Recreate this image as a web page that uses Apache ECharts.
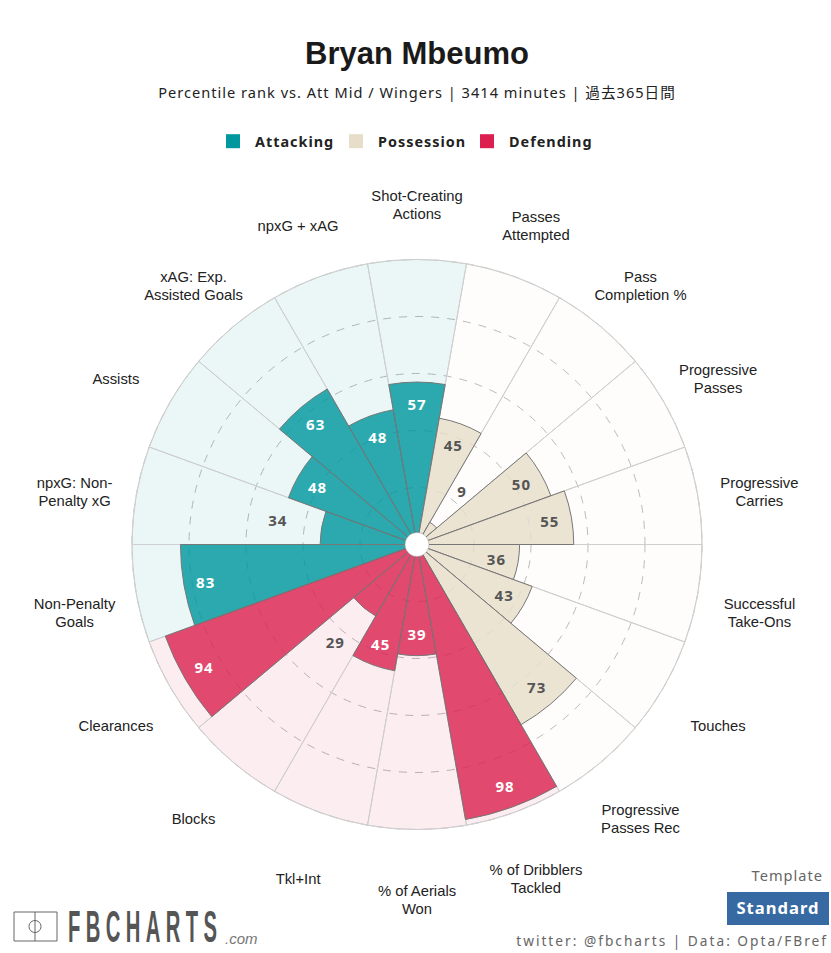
<!DOCTYPE html>
<html>
<head>
<meta charset="utf-8">
<style>
    html, body {margin: 0; padding: 0; background: #fff;}
    #chart {width: 831px; height: 953px;}
    #chart text[style*="Noto Sans"] {letter-spacing: 1px;}
    #chart text[style*="45px"] {letter-spacing: 12px;}
    #chart text[style*="13.7px"] {letter-spacing: 2px;}
</style>
<script src="https://cdn.jsdelivr.net/npm/echarts@6/dist/echarts.min.js"></script>
</head>
<body>
<div id="chart"></div>
<script>
// clockwise from the top
const categories = [
    'Shot-Creating\nActions', 'Passes\nAttempted', 'Pass\nCompletion %', 'Progressive\nPasses',
    'Progressive\nCarries', 'Successful\nTake-Ons', 'Touches', 'Progressive\nPasses Rec',
    '% of Dribblers\nTackled', '% of Aerials\nWon', 'Tkl+Int', 'Blocks', 'Clearances',
    'Non-Penalty\nGoals', 'npxG: Non-\nPenalty xG', 'Assists', 'xAG: Exp.\nAssisted Goals', 'npxG + xAG'
];
const percentiles = [57, 45, 9, 50, 55, 36, 43, 73, 98, 39, 45, 29, 94, 83, 34, 48, 63, 48];
const groups = ['Attacking', 'Possession', 'Possession', 'Possession', 'Possession', 'Possession',
    'Possession', 'Possession', 'Defending', 'Defending', 'Defending', 'Defending', 'Defending',
    'Attacking', 'Attacking', 'Attacking', 'Attacking', 'Attacking'];
const groupNames = ['Attacking', 'Possession', 'Defending'];
const groupColors = {Attacking: '#01979E', Possession: '#E6DEC9', Defending: '#DC1F4E'};
const barFill = {Attacking: 'rgba(1,151,158,0.82)', Possession: 'rgba(230,222,201,0.82)', Defending: 'rgba(218,36,80,0.82)'};
const backFill = {Attacking: 'rgba(1,151,158,0.08)', Possession: 'rgba(230,222,201,0.05)', Defending: 'rgba(220,31,78,0.08)'};

const center = [417, 544.5];
const sansFont = '"Liberation Sans", Arial, sans-serif';
const trebFont = '"Noto Sans", "Noto Sans CJK JP", sans-serif';

const backSeries = {
    type: 'bar',
    coordinateSystem: 'polar',
    barGap: '-100%',
    barCategoryGap: 0,
    silent: true,
    data: groups.map(g => ({
        value: 100,
        itemStyle: {color: backFill[g], borderColor: '#cfcfcf', borderWidth: 1}
    }))
};

const barSeries = groupNames.map(name => ({
    name: name,
    type: 'bar',
    coordinateSystem: 'polar',
    barGap: '-100%',
    barCategoryGap: 0,
    silent: true,
    itemStyle: {color: barFill[name], borderColor: '#777', borderWidth: 1},
    data: percentiles.map((v, i) => groups[i] === name ? v : null)
}));

// value labels sit just inside the bar end, small bars get them outside
const labelSeries = {
    type: 'scatter',
    coordinateSystem: 'polar',
    symbolSize: 1,
    silent: true,
    clip: false,
    itemStyle: {color: 'rgba(0,0,0,0)', opacity: 1},
    z: 5,
    data: percentiles.map((v, i) => {
        const outside = v < 35;
        const light = !outside && groups[i] !== 'Possession';
        return {
            value: [outside ? v + 15.6 : v - 7.7, i],
            label: {
                show: true,
                position: 'inside',
                formatter: String(v),
                color: light ? '#fff' : '#555',
                textBorderWidth: 0,
                fontFamily: trebFont,
                fontWeight: 'bold',
                fontSize: 15
            }
        };
    })
};

// the angle axis forces its own label alignment, so names go on a scatter past the rim
const nameRadius = 122;
const nameSeries = {
    type: 'scatter',
    coordinateSystem: 'polar',
    symbolSize: 1,
    silent: true,
    clip: false,
    itemStyle: {color: 'rgba(0,0,0,0)', opacity: 1},
    data: categories.map((c, i) => ({
        value: [nameRadius, i],
        label: {
            show: true,
            position: 'inside',
            offset: [0, 8],
            formatter: c,
            align: 'center',
            verticalAlign: 'middle',
            color: '#222',
            textBorderWidth: 0,
            fontFamily: sansFont,
            fontSize: 14.8,
            lineHeight: 18
        }
    }))
};

const holeSeries = {
    type: 'pie',
    center: center,
    radius: [0, 12],
    silent: true,
    z: 6,
    label: {show: false},
    labelLine: {show: false},
    itemStyle: {color: '#fff', borderColor: '#999', borderWidth: 0.5},
    data: [1]
};

const legends = groupNames.map((name, i) => ({
    left: [226, 349, 480][i],
    top: 134,
    padding: 0,
    icon: 'rect',
    itemWidth: 14,
    itemHeight: 14,
    selectedMode: false,
    textStyle: {
        fontFamily: trebFont,
        fontWeight: 'bold',
        fontSize: 14.4,
        color: '#222',
        padding: [0, 0, 0, 10]
    },
    data: [{name: name, itemStyle: {color: groupColors[name], borderWidth: 0}}]
}));

const logoColor = '#666';
const graphics = [
    {type: 'rect', shape: {x: 14, y: 912, width: 43, height: 29}, style: {fill: 'none', stroke: logoColor, lineWidth: 1}},
    {type: 'line', shape: {x1: 35, y1: 912, x2: 35, y2: 941}, style: {stroke: logoColor, lineWidth: 1}},
    {type: 'circle', shape: {cx: 35, cy: 926.5, r: 6}, style: {fill: 'none', stroke: logoColor, lineWidth: 1}},
    {type: 'text', x: 68, y: 903, scaleX: 0.45, style: {
        text: 'FBCHARTS', font: 'bold 45px ' + sansFont, fill: '#555'
    }},
    {type: 'text', x: 225, y: 931, style: {
        text: '.com', font: 'italic 15px ' + sansFont, fill: '#777'
    }},
    {type: 'text', x: 823, y: 868, style: {
        text: 'Template', font: '14.6px ' + trebFont, fill: '#666', align: 'right'
    }},
    {type: 'rect', shape: {x: 727, y: 892, width: 102, height: 33}, style: {fill: '#376AA3'}},
    {type: 'text', x: 778, y: 899, style: {
        text: 'Standard', font: 'bold 16.6px ' + trebFont, fill: '#fff', align: 'center'
    }},
    {type: 'text', x: 828, y: 934, style: {
        text: 'twitter: @fbcharts | Data: Opta/FBref', font: '13.7px ' + trebFont, fill: '#666', align: 'right'
    }}
];

const option = {
    animation: false,
    backgroundColor: '#fff',
    title: [
        {
            text: 'Bryan Mbeumo',
            left: 412,
            top: 33,
            textAlign: 'center',
            textStyle: {fontFamily: sansFont, fontWeight: 'bold', fontSize: 31, color: '#1a1a1a'}
        },
        {
            text: 'Percentile rank vs. Att Mid / Wingers | 3414 minutes | 過去365日間',
            left: 412,
            top: 80,
            textAlign: 'center',
            textStyle: {fontFamily: trebFont, fontWeight: 'normal', fontSize: 14.6, color: '#222'}
        }
    ],
    legend: legends,
    polar: {center: center, radius: 285},
    radiusAxis: {
        min: 0,
        max: 100,
        interval: 20,
        axisLine: {show: false},
        axisTick: {show: false},
        axisLabel: {show: false},
        splitLine: {show: true, lineStyle: {color: '#bbb', type: [8, 8], width: 1}}
    },
    angleAxis: {
        type: 'category',
        data: categories,
        startAngle: 100,
        boundaryGap: true,
        axisLine: {show: true, lineStyle: {color: '#ddd', width: 1}},
        axisTick: {show: false},
        splitLine: {show: false},
        axisLabel: {show: false}
    },
    series: [backSeries].concat(barSeries, [nameSeries, labelSeries, holeSeries]),
    graphic: graphics
};

const chart = echarts.init(document.getElementById('chart'), null, {renderer: 'svg'});
chart.setOption(option);
</script>
</body>
</html>
